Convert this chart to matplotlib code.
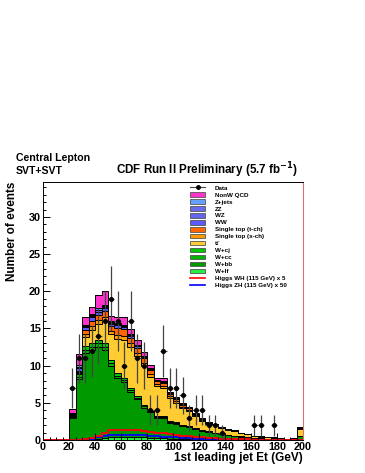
import numpy as np
import matplotlib
matplotlib.use("Agg")
import matplotlib.pyplot as plt
from matplotlib.patches import Patch
from matplotlib.lines import Line2D
from matplotlib.ticker import MultipleLocator

plt.rcParams['font.family'] = ['Liberation Sans', 'DejaVu Sans']
plt.rcParams['font.weight'] = 'bold'
plt.rcParams['mathtext.default'] = 'bf'

# bin low edges: 0,5,...,195  (first 4 bins empty)
edges = np.arange(0, 205, 5)

wlf = [0, 0, 0, 0, 0.0, 0.02, 0.05, 0.1, 0.2, 0.3, 0.35, 0.4, 0.4, 0.4, 0.38, 0.35, 0.3, 0.28, 0.25, 0.2,
       0.2, 0.15, 0.15, 0.12, 0.1, 0.1, 0.08, 0.07, 0.05, 0.05, 0.04, 0.03, 0.02, 0.02, 0.02, 0.01, 0.01, 0.01, 0.01, 0.05]
wbb = [0, 0, 0, 0, 2.95, 8.2, 11.65, 12.0, 12.3, 11.8, 9.65, 7.9, 7.4, 6.1, 5.08, 3.99, 3.4, 2.68, 2.71, 2.1,
       2.0, 1.69, 1.59, 1.36, 1.1, 1.0, 0.84, 0.75, 0.59, 0.49, 0.42, 0.33, 0.26, 0.21, 0.16, 0.12, 0.09, 0.09, 0.09, 0.49]
wcc = [0, 0, 0, 0, 0.12, 0.3, 0.45, 0.45, 0.5, 0.45, 0.4, 0.35, 0.3, 0.25, 0.22, 0.18, 0.15, 0.12, 0.12, 0.1,
       0.1, 0.08, 0.08, 0.06, 0.05, 0.05, 0.04, 0.04, 0.03, 0.03, 0.02, 0.02, 0.01, 0.01, 0.01, 0.01, 0.0, 0.0, 0.0, 0.03]
wcj = [0, 0, 0, 0, 0.12, 0.3, 0.45, 0.45, 0.5, 0.45, 0.4, 0.35, 0.3, 0.25, 0.22, 0.18, 0.15, 0.12, 0.12, 0.1,
       0.1, 0.08, 0.08, 0.06, 0.05, 0.05, 0.04, 0.04, 0.03, 0.03, 0.02, 0.02, 0.01, 0.01, 0.01, 0.01, 0.0, 0.0, 0.0, 0.03]
ttbar = [0, 0, 0, 0, 0.15, 0.2, 1.2, 1.8, 2.1, 3.0, 3.4, 4.6, 5.1, 5.5, 5.4, 5.3, 4.5, 4.0, 3.8, 3.2,
         2.6, 2.3, 2.0, 1.6, 1.3, 1.0, 1.0, 0.75, 0.68, 0.6, 0.43, 0.35, 0.26, 0.22, 0.18, 0.18, 0.14, 0.09, 0.18, 0.9]
stop_s = [0, 0, 0, 0, 0.04, 0.12, 0.4, 0.5, 0.5, 0.5, 0.45, 0.55, 0.55, 0.5, 0.45, 0.4, 0.35, 0.3, 0.3, 0.2,
          0.2, 0.16, 0.14, 0.1, 0.08, 0.06, 0.06, 0.05, 0.04, 0.03, 0.02, 0.02, 0.01, 0.01, 0.01, 0.01, 0.0, 0.0, 0.01, 0.08]
stop_t = [0, 0, 0, 0, 0.06, 0.18, 0.6, 0.7, 0.7, 0.8, 0.65, 0.85, 0.85, 0.7, 0.65, 0.6, 0.55, 0.4, 0.4, 0.3,
          0.3, 0.24, 0.21, 0.15, 0.12, 0.09, 0.09, 0.07, 0.06, 0.05, 0.04, 0.02, 0.02, 0.01, 0.01, 0.01, 0.01, 0.01, 0.01, 0.12]
ww = [0, 0, 0, 0, 0.08, 0.35, 0.35, 0.5, 0.45, 0.45, 0.35, 0.4, 0.3, 0.25, 0.2, 0.15, 0.15, 0.1, 0.1, 0.05,
      0.05, 0.05, 0.03, 0.03, 0.03, 0.02, 0.02, 0.02, 0.01, 0.01, 0.01, 0.01, 0.01, 0.01, 0, 0, 0, 0, 0, 0.03]
wz = [0, 0, 0, 0, 0.03, 0.14, 0.14, 0.2, 0.18, 0.18, 0.14, 0.16, 0.12, 0.1, 0.08, 0.06, 0.06, 0.04, 0.04, 0.02,
      0.02, 0.02, 0.01, 0.01, 0.01, 0.01, 0.01, 0.01, 0.01, 0.01, 0, 0, 0, 0, 0, 0, 0, 0, 0, 0.01]
zz = [0, 0, 0, 0, 0.01, 0.03, 0.03, 0.05, 0.05, 0.05, 0.04, 0.04, 0.03, 0.03, 0.02, 0.02, 0.02, 0.01, 0.01, 0.01,
      0.01, 0.01, 0.01, 0.01, 0.01, 0, 0, 0, 0, 0, 0, 0, 0, 0, 0, 0, 0, 0, 0, 0]
zjets = [0, 0, 0, 0, 0.03, 0.18, 0.18, 0.25, 0.22, 0.22, 0.17, 0.2, 0.15, 0.12, 0.1, 0.07, 0.07, 0.05, 0.05, 0.02,
         0.02, 0.02, 0, 0, 0, 0, 0, 0, 0, 0, 0, 0, 0, 0, 0, 0, 0, 0, 0, 0.01]
qcd = [0, 0, 0, 0, 0.6, 1.5, 1.0, 0.9, 1.8, 1.8, 0.7, 0.8, 1.0, 0.7, 0.7, 0.6, 0.4, 0.3, 0.4, 0.2,
       0.2, 0.2, 0.1, 0.1, 0.05, 0.02, 0.02, 0, 0, 0, 0, 0, 0, 0, 0, 0, 0, 0, 0, 0.05]

data = [0, 0, 0, 0, 7, 11, 11, 12, 14, 16, 19, 16, 10, 16, 11, 10, 4, 4, 12, 7,
        7, 6, 3, 4, 4, 2, 2, 1, 0, 0, 0, 0, 2, 2, 0, 2, 0, 0, 0, 0]

higgs_wh = [0, 0, 0, 0, 0.02, 0.05, 0.12, 0.3, 0.6, 0.95, 1.3, 1.4, 1.4, 1.35, 1.3, 1.2, 1.1, 1.0, 0.9, 0.8,
            0.7, 0.6, 0.5, 0.42, 0.35, 0.3, 0.25, 0.2, 0.15, 0.12, 0.1, 0.08, 0.06, 0.05, 0.04, 0.03, 0.02, 0.02, 0.01, 0.05]
higgs_zh = [0, 0, 0, 0, 0.01, 0.03, 0.08, 0.2, 0.35, 0.5, 0.62, 0.7, 0.72, 0.72, 0.7, 0.65, 0.6, 0.52, 0.45, 0.4,
            0.35, 0.3, 0.25, 0.2, 0.17, 0.14, 0.12, 0.1, 0.08, 0.06, 0.05, 0.04, 0.03, 0.02, 0.02, 0.01, 0.01, 0.01, 0.01, 0.03]

# stack bottom -> top
stack = [
    ("W+lf", wlf, "#22ee44"),
    ("W+bb", wbb, "#009a00"),
    ("W+cc", wcc, "#00b400"),
    ("W+cj", wcj, "#00c800"),
    ("tt\u0304", ttbar, "#ffcc33"),
    ("Single top (s-ch)", stop_s, "#ff9900"),
    ("Single top (t-ch)", stop_t, "#ff6600"),
    ("WW", ww, "#5a5aff"),
    ("WZ", wz, "#6464f0"),
    ("ZZ", zz, "#6a6aee"),
    ("Z+jets", zjets, "#66a0ff"),
    ("NonW QCD", qcd, "#ff33cc"),
]

fig = plt.figure(figsize=(3.65, 4.73), dpi=100)
ax = fig.add_axes([43/365, 1-440/473, 260/365, 258/473])

bottom = np.zeros(len(edges) - 1)
for name, vals, col in stack:
    top = bottom + np.array(vals)
    ax.stairs(top, edges, baseline=bottom, fill=True, color=col, lw=0)
    bottom = top
# black outlines of each cumulative histogram
bottom = np.zeros(len(edges) - 1)
for name, vals, col in stack:
    top = bottom + np.array(vals)
    ax.stairs(top, edges, baseline=None, color='black', lw=0.7)
    bottom = top

ax.stairs(higgs_zh, edges, baseline=None, color='#0000ff', lw=1.3)
ax.stairs(higgs_wh, edges, baseline=None, color='#ff0000', lw=1.3)

centers = 0.5 * (edges[:-1] + edges[1:])
d = np.array(data, dtype=float)
m = d > 0
ax.errorbar(centers[m], d[m], yerr=np.sqrt(d[m]), xerr=2.5, fmt='o', ms=2.6,
            color='black', ecolor='#444444', elinewidth=0.9, capsize=0, zorder=5)

ax.set_xlim(0, 200)
ax.set_ylim(0, 34.7)
ax.xaxis.set_major_locator(MultipleLocator(20))
ax.xaxis.set_minor_locator(MultipleLocator(5))
ax.yaxis.set_major_locator(MultipleLocator(5))
ax.yaxis.set_minor_locator(MultipleLocator(1))
ax.tick_params(which='both', direction='in', width=0.7, labelsize=7.8, pad=1.5)
ax.tick_params(which='major', length=5)
ax.tick_params(which='minor', length=2.5)
for lab in ax.get_xticklabels() + ax.get_yticklabels():
    lab.set_fontweight('bold')
for s in ['left', 'bottom', 'top']:
    ax.spines[s].set_linewidth(0.7)
ax.spines['right'].set_color('#e07070')
ax.spines['right'].set_linewidth(0.8)

ax.set_xlabel('1st leading jet Et (GeV)', fontsize=8.5, fontweight='bold', loc='right', labelpad=0)
ax.set_ylabel('Number of events', fontsize=8.5, fontweight='bold', loc='top', labelpad=8)

handles = [Line2D([0], [0], color='#444444', marker='o', ms=2.5, mfc='black', mec='black', lw=0.8)]
labels = ['Data']
for name, vals, col in reversed(stack):
    handles.append(Patch(facecolor=col, edgecolor='#555555', lw=0.6))
    labels.append(name)
handles.append(Line2D([0], [0], color='#ff0000', lw=1.2))
labels.append('Higgs WH (115 GeV) x 5')
handles.append(Line2D([0], [0], color='#0000ff', lw=1.2))
labels.append('Higgs ZH (115 GeV) x 50')
ax.legend(handles, labels, loc='upper left', bbox_to_anchor=(0.555, 1.0), frameon=False,
          prop={'size': 4.5, 'weight': 'bold'}, handlelength=2.4, handleheight=0.75,
          labelspacing=0.24, handletextpad=1.5, borderpad=0.3, borderaxespad=0.2)

fig.text(16/365, 1-161/473, 'Central Lepton', fontsize=7.6, fontweight='bold')
fig.text(16/365, 1-174/473, 'SVT+SVT', fontsize=7.6, fontweight='bold')
fig.text(207/365, 1-174/473, r'CDF Run II Preliminary (5.7 fb$^{\mathbf{-1}}$)', fontsize=8.4,
         fontweight='bold', ha='center')

fig.savefig('out.png', dpi=100)
